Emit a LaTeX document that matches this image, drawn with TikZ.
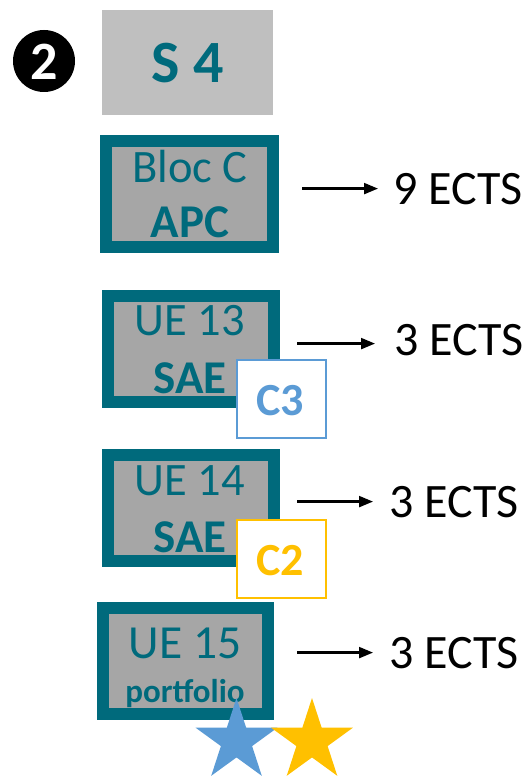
\documentclass[tikz,border=0pt]{standalone}
\usepackage{fontspec}
\setmainfont{Carlito}
\usetikzlibrary{arrows.meta,shapes.geometric}
\definecolor{teal}{HTML}{006A7C}
\definecolor{boxgray}{HTML}{A6A6A6}
\definecolor{headgray}{HTML}{BFBFBF}
\definecolor{cblue}{HTML}{5B9BD5}
\definecolor{cyellow}{HTML}{FFC000}
\tikzset{
  uebox/.style={draw=teal, fill=boxgray, line width=12pt, inner sep=0pt},
  tag/.style={fill=white, line width=1.5pt, inner sep=0pt, minimum width=89pt, minimum height=78pt},
  txt/.style={inner sep=0pt, font=\fontsize{48}{52}\selectfont},
  intxt/.style={inner sep=0pt, anchor=base, text=teal, font=\fontsize{46.5}{50}\selectfont},
  inbold/.style={inner sep=0pt, anchor=base, text=teal, font=\fontsize{47}{50}\selectfont\bfseries},
  arr/.style={line width=2.2pt, -{Triangle[length=14pt,width=11pt]}},
  starshape/.style={star, star points=5, star point ratio=2.618, minimum size=86pt, inner sep=0pt}
}
\begin{document}
\begin{tikzpicture}[x=1pt,y=-1pt]
\useasboundingbox (0,0) rectangle (526,781);
% number badge
\node[circle, fill=black, minimum size=62pt, inner sep=0pt] (num) at (44,61) {};
\node[inner sep=0pt, anchor=base, text=white, font=\fontsize{54}{56}\selectfont\bfseries] (numtxt) at (44,80) {2};
% S4 header
\node[fill=headgray, minimum width=171pt, minimum height=105pt, inner sep=0pt] (s4) at (187.5,62.5) {};
\node[inner sep=0pt, anchor=base, text=teal, font=\fontsize{60}{62}\selectfont\bfseries] (s4txt) at (188,83) {S 4};
% Bloc C
\node[uebox, minimum width=167pt, minimum height=106pt] (bc) at (189.5,194) {};
\node[intxt] (bc1) at (190,182) {Bloc C};
\node[inbold] (bc2) at (190,237) {APC};
% UE 13
\node[uebox, minimum width=166pt, minimum height=106pt] (u13) at (191,349) {};
\node[intxt] (u13a) at (190,335) {UE 13};
\node[inbold] (u13b) at (190,393) {SAE};
\node[tag, draw=cblue] (c3) at (281.5,399) {};
\node[inner sep=0pt, anchor=base, text=cblue, font=\fontsize{46}{50}\selectfont\bfseries] (c3t) at (280,415) {C3};
% UE 14
\node[uebox, minimum width=166pt, minimum height=106pt] (u14) at (191,508) {};
\node[intxt] (u14a) at (190,495) {UE 14};
\node[inbold] (u14b) at (190,552) {SAE};
\node[tag, draw=cyellow] (c2) at (281.5,559) {};
\node[inner sep=0pt, anchor=base, text=cyellow, font=\fontsize{46}{50}\selectfont\bfseries] (c2t) at (280,575) {C2};
% UE 15
\node[uebox, minimum width=165pt, minimum height=106pt] (u15) at (185.5,661) {};
\node[intxt, font=\fontsize{47.5}{50}\selectfont] (u15a) at (185,658) {UE 15};
\node[inner sep=0pt, anchor=base, text=teal, font=\fontsize{33}{36}\selectfont\bfseries] (u15b) at (185,702) {portfolio};
% stars
\node[starshape, fill=cblue] (s1) at (236.5,741) {};
\node[starshape, fill=cyellow] (s2) at (312,741) {};
% ECTS labels
\node[txt, anchor=base west] (e1) at (393,204) {9 ECTS};
\node[txt, anchor=base west] (e2) at (394,355) {3 ECTS};
\node[txt, anchor=base west] (e3) at (389,517) {3 ECTS};
\node[txt, anchor=base west] (e4) at (389,668) {3 ECTS};
\draw[arr] ([xshift=23pt]bc.east |- e1.west) -- ([xshift=-15pt]e1.west);
\draw[arr] ([xshift=17pt,yshift=-4pt]u13.east |- e2.west) -- ([xshift=-19pt,yshift=-4pt]e2.west);
\draw[arr] ([xshift=17pt]u14.east |- e3.west) -- ([xshift=-16pt]e3.west);
\draw[arr] ([xshift=23pt]u15.east |- e4.west) -- ([xshift=-16pt]e4.west);
\end{tikzpicture}
\end{document}
